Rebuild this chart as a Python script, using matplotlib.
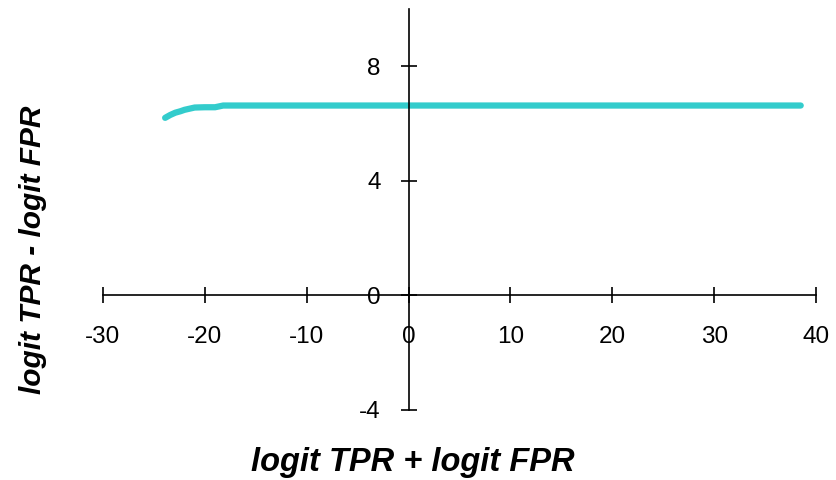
import numpy as np
import matplotlib.pyplot as plt

plt.rcParams['font.family'] = ['Liberation Sans', 'DejaVu Sans']
plt.rcParams['axes.unicode_minus'] = False

# curve
x_vals = [-23.9, -23.4, -22.9, -22.4, -22.0, -21.5, -21.0, -20.0, -19.0, -18.6, -18.2, -10.0, 0.0, 10.0, 20.0, 30.0, 38.5]
y_vals = [6.20, 6.30, 6.38, 6.43, 6.48, 6.52, 6.56, 6.57, 6.57, 6.60, 6.63, 6.63, 6.63, 6.63, 6.63, 6.63, 6.63]

x_ticks = [-30, -20, -10, 0, 10, 20, 30, 40]
y_ticks = [-4, 0, 4, 8]

fig = plt.figure(figsize=(8.37, 4.8), dpi=100)
ax = fig.add_axes([103 / 837, 70 / 480, 713 / 837, 401 / 480])

ax.plot(x_vals, y_vals, color='#33CCCC', linewidth=4.5, solid_capstyle='round')

ax.set_xlim(-30, 40)
ax.set_ylim(-4, 10)
ax.spines['left'].set_position(('data', 0))
ax.spines['bottom'].set_position(('data', 0))
ax.spines['right'].set_visible(False)
ax.spines['top'].set_visible(False)
for s in ('left', 'bottom'):
    ax.spines[s].set_linewidth(1.2)

ax.set_xticks(x_ticks)
ax.set_yticks(y_ticks)
ax.tick_params(axis='both', direction='inout', length=12, width=1.2, labelsize=17.5)
ax.tick_params(axis='x', pad=16)
ax.tick_params(axis='y', pad=14)

fig.text(413 / 837, 1 - 462 / 480, 'logit TPR + logit FPR', ha='center', va='center',
         fontsize=23.5, fontweight='bold', fontstyle='italic')
fig.text(33 / 837, 1 - 250 / 480, 'logit TPR - logit FPR', ha='center', va='center',
         rotation=90, fontsize=21.5, fontweight='bold', fontstyle='italic')

fig.savefig('out.png', dpi=100)
